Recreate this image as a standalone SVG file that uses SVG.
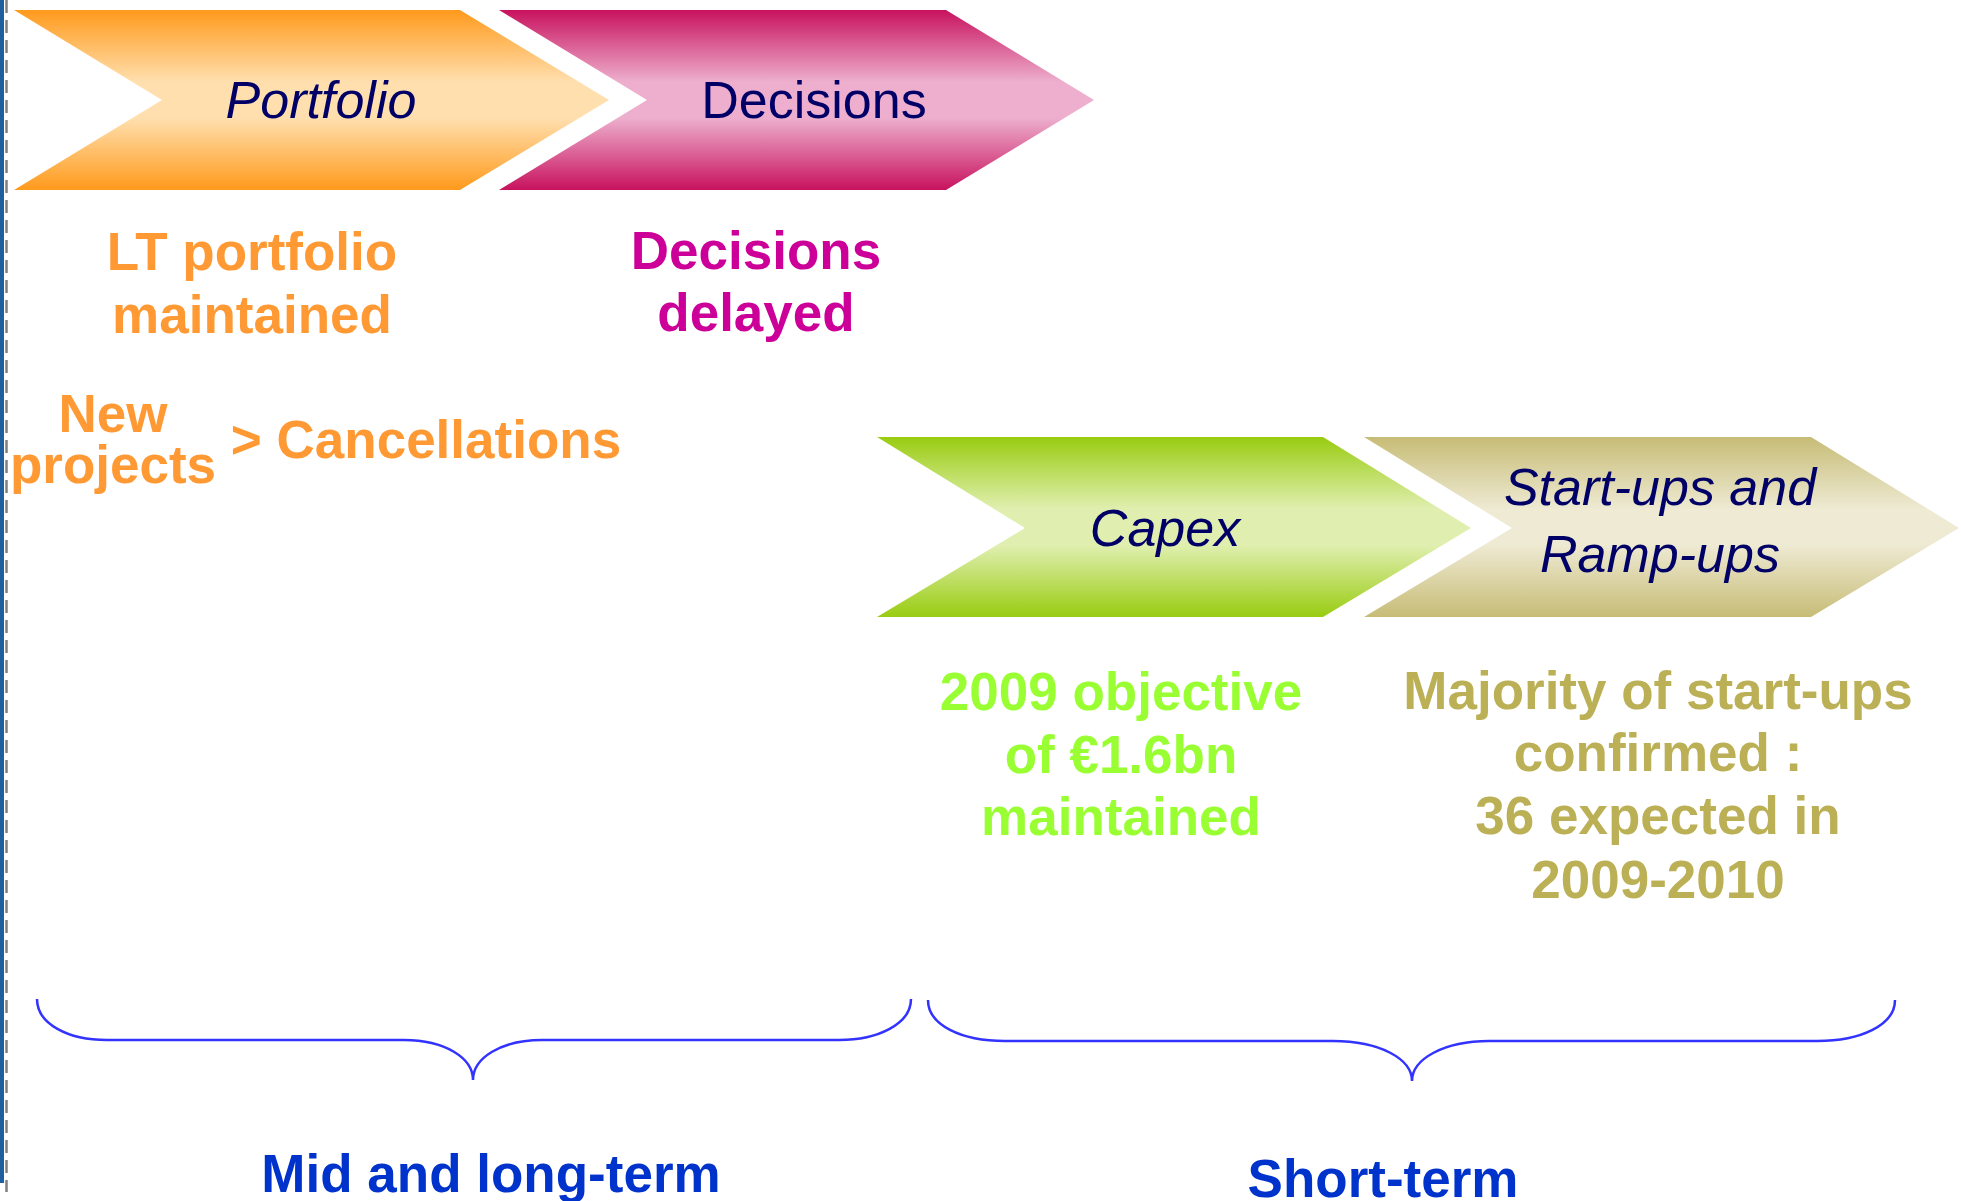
<svg xmlns="http://www.w3.org/2000/svg" width="1961" height="1201" viewBox="0 0 1961 1201">
<defs>
<linearGradient id="gOrange" x1="0" y1="0" x2="0" y2="1">
<stop offset="0" stop-color="#FF9A1C"/><stop offset="0.4" stop-color="#FFDFAE"/><stop offset="0.6" stop-color="#FFDFAE"/><stop offset="1" stop-color="#FF9A1C"/>
</linearGradient>
<linearGradient id="gPink" x1="0" y1="0" x2="0" y2="1">
<stop offset="0" stop-color="#C8125E"/><stop offset="0.4" stop-color="#EDAFCD"/><stop offset="0.6" stop-color="#EDAFCD"/><stop offset="1" stop-color="#C8125E"/>
</linearGradient>
<linearGradient id="gGreen" x1="0" y1="0" x2="0" y2="1">
<stop offset="0" stop-color="#99CC11"/><stop offset="0.4" stop-color="#E0EFB0"/><stop offset="0.6" stop-color="#E0EFB0"/><stop offset="1" stop-color="#99CC11"/>
</linearGradient>
<linearGradient id="gOlive" x1="0" y1="0" x2="0" y2="1">
<stop offset="0" stop-color="#C7BC76"/><stop offset="0.4" stop-color="#EEEAD3"/><stop offset="0.6" stop-color="#EEEAD3"/><stop offset="1" stop-color="#C7BC76"/>
</linearGradient>
</defs>
<style>
.lbl{font-family:"Liberation Sans",Arial,sans-serif;font-size:52px;fill:#000066;text-anchor:middle}
.it{font-style:italic}
.b{font-family:"Liberation Sans",Arial,sans-serif;font-size:53px;font-weight:bold;text-anchor:middle}
.brace{fill:none;stroke:#3333FF;stroke-width:2.5}
</style>
<rect width="1961" height="1201" fill="#FFFFFF"/>
<rect x="0" y="0" width="4" height="1183" fill="#1F5F9F"/>
<line x1="6.5" y1="0" x2="6.5" y2="1192" stroke="#808080" stroke-width="2.5" stroke-dasharray="13 7"/>

<g id="portfolio">
<polygon points="14,10 460,10 609,100 460,190 14,190 162,100" fill="url(#gOrange)"/>
<text class="lbl it" x="321" y="118">Portfolio</text>
</g>
<g id="decisions">
<polygon points="499,10 946,10 1094,100 946,190 499,190 647,100" fill="url(#gPink)"/>
<text class="lbl" x="814" y="118">Decisions</text>
</g>
<g id="capex">
<polygon points="877,437 1323,437 1471,528 1323,617 877,617 1025,528" fill="url(#gGreen)"/>
<text class="lbl it" x="1165" y="546">Capex</text>
</g>
<g id="startups">
<polygon points="1364,437 1811,437 1959,528 1811,617 1364,617 1512,528" fill="url(#gOlive)"/>
<text class="lbl it" x="1660" y="505">Start-ups and</text>
<text class="lbl it" x="1660" y="572">Ramp-ups</text>
</g>

<g id="lt-portfolio">
<text class="b" fill="#FF9933" x="252" y="270">LT portfolio</text>
<text class="b" fill="#FF9933" x="252" y="333">maintained</text>
</g>
<g id="new-projects">
<text class="b" fill="#FF9933" x="113" y="432">New</text>
<text class="b" fill="#FF9933" x="113" y="483">projects</text>
<text class="b" fill="#FF9933" x="426" y="458">&gt; Cancellations</text>
</g>
<g id="decisions-delayed">
<text class="b" fill="#CC0099" x="756" y="269">Decisions</text>
<text class="b" fill="#CC0099" x="756" y="331">delayed</text>
</g>
<g id="capex-objective">
<text class="b" fill="#99FF33" x="1121" y="710">2009 objective</text>
<text class="b" fill="#99FF33" x="1121" y="773">of €1.6bn</text>
<text class="b" fill="#99FF33" x="1121" y="835">maintained</text>
</g>
<g id="startups-confirmed">
<text class="b" fill="#BBB055" x="1658" y="709">Majority of start-ups</text>
<text class="b" fill="#BBB055" x="1658" y="771">confirmed :</text>
<text class="b" fill="#BBB055" x="1658" y="834">36 expected in</text>
<text class="b" fill="#BBB055" x="1658" y="898">2009-2010</text>
</g>

<g id="connectors">
<path class="brace" d="M37,999 C37,1024 68,1040 107,1040 L404,1040 C445,1040 473,1058 473,1080 C473,1058 501,1040 542,1040 L839,1040 C878,1040 911,1024 911,999"/>
<path class="brace" d="M928,1000 C928,1025 961,1041 1005,1041 L1333,1041 C1380,1041 1412,1059 1412,1081 C1412,1059 1444,1041 1489,1041 L1817,1041 C1861,1041 1895,1025 1895,1000"/>
</g>

<g id="mid-long-term">
<text class="b" fill="#0033CC" x="491" y="1192">Mid and long-term</text>
</g>
<g id="short-term">
<text class="b" fill="#0033CC" x="1383" y="1197">Short-term</text>
</g>
</svg>
